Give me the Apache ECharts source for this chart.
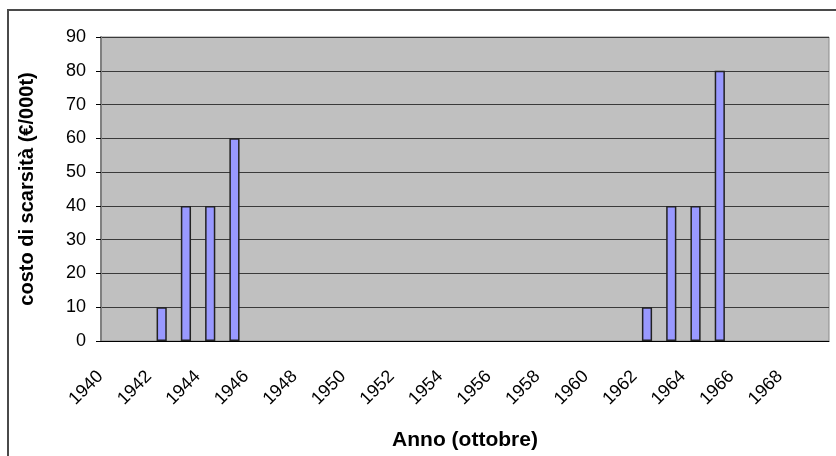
<!DOCTYPE html>
<html>
<head>
<meta charset="utf-8">
<script src="https://cdn.jsdelivr.net/npm/echarts@6/dist/echarts.min.js"></script>
<style>
  html, body { margin: 0; padding: 0; background: #ffffff; }
  #chart { width: 836px; height: 456px; }
</style>
</head>
<body>
<div id="chart"></div>
<script>
// Years along the category axis (one band per year, October readings)
const years = [];
for (let y = 1940; y <= 1969; y++) years.push(String(y));

// Scarcity cost per year (€/000t); empty years carry no bar
const scarcityCost = [
  null, null, 10, 40, 40, 60, null, null, null, null,
  null, null, null, null, null, null, null, null, null, null,
  null, null, 10, 40, 40, 80, null, null, null, null
];

const yTicks = { min: 0, max: 90, step: 10 };

const FONT = 'Liberation Sans, Arial, sans-serif';

const chart = echarts.init(document.getElementById('chart'), null, { renderer: 'canvas' });

chart.setOption({
  animation: false,
  backgroundColor: '#ffffff',
  graphic: [{
    type: 'rect',
    shape: { x: 8, y: 10, width: 900, height: 500 },
    style: { fill: 'none', stroke: '#4a4a4a', lineWidth: 2 },
    silent: true,
    z: -1
  }],
  grid: {
    left: 101, right: 7, top: 37, bottom: 113,
    show: true,
    backgroundColor: '#c0c0c0',
    borderColor: '#8a8a8a',
    borderWidth: 1
  },
  xAxis: {
    type: 'category',
    data: years,
    boundaryGap: true,
    name: 'Anno (ottobre)',
    nameLocation: 'middle',
    nameGap: 89,
    nameTextStyle: { fontFamily: FONT, fontSize: 21, fontWeight: 'bold', color: '#000' },
    axisLine: { lineStyle: { color: '#000', width: 1 } },
    axisTick: { interval: 0, length: 5, lineStyle: { color: '#000' } },
    axisLabel: {
      interval: 1, rotate: 45, margin: 20,
      fontFamily: FONT, fontSize: 18, color: '#000',
      formatter: v => '{y|' + v + '}',
      rich: { y: { fontFamily: FONT, fontSize: 18, color: '#000', padding: [0, 18, 0, 0] } }
    },
    splitLine: { show: false }
  },
  yAxis: {
    type: 'value',
    min: yTicks.min, max: yTicks.max, interval: yTicks.step,
    name: 'costo di scarsità (€/000t)',
    nameLocation: 'middle',
    nameGap: 64,
    nameTextStyle: { fontFamily: FONT, fontSize: 20, fontWeight: 'bold', color: '#000' },
    axisLine: { show: true, lineStyle: { color: '#808080', width: 2 } },
    axisTick: { show: true, length: 5, lineStyle: { color: '#000' } },
    axisLabel: { margin: 15, fontFamily: FONT, fontSize: 18, color: '#000' },
    splitLine: { show: true, lineStyle: { color: '#3a3a3a', width: 1.2 } }
  },
  series: [{
    type: 'bar',
    data: scarcityCost,
    barWidth: '42%',
    itemStyle: { color: '#9999ff', borderColor: '#222', borderWidth: 1.5 }
  }]
});
</script>
</body>
</html>
